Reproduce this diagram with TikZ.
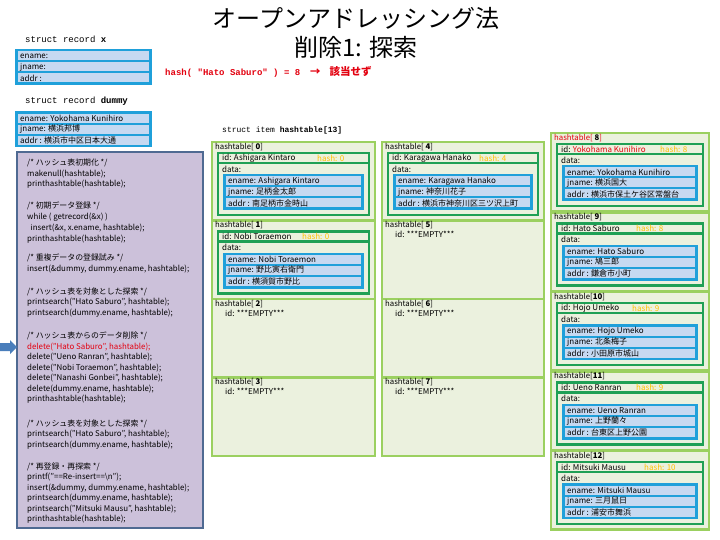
\documentclass[tikz,border=0pt]{standalone}
\usepackage{fontspec}
\setmainfont{Noto Sans CJK JP}
\newfontfamily\monof{Liberation Mono}
\definecolor{cyanB}{HTML}{1FA0DA}
\definecolor{rowB}{HTML}{C6D9F1}
\definecolor{lgreen}{HTML}{9BD060}
\definecolor{slotfill}{HTML}{EBF1DE}
\definecolor{dgreen}{HTML}{1FA055}
\definecolor{codefill}{HTML}{CCC1DA}
\definecolor{codeline}{HTML}{4F6A92}
\definecolor{hashc}{HTML}{FFC000}
\definecolor{redc}{HTML}{E3000F}
\definecolor{arrowc}{HTML}{4A7EBB}
\tikzset{
  txt/.style={inner sep=0pt, anchor=west, font=\fontsize{8}{9}\selectfont},
  lbl/.style={inner sep=0pt, anchor=west, font=\fontsize{7.8}{9}\selectfont},
  code/.style={inner sep=0pt, anchor=west, font=\fontsize{7.9}{9}\selectfont},
  slotouter/.style={draw=lgreen, line width=2.8pt, fill=slotfill},
  dgbox/.style={draw=dgreen, line width=2.5pt, fill=slotfill},
  structlbl/.style={inner sep=0pt, anchor=west, font=\monof\fontsize{9}{10}\selectfont}
}
\def\idcolor{black}
\def\labcolor{black}
% record block: name, "x,y", width, ename, jname, addr
\newcommand{\recblock}[6]{%
  \begin{scope}[shift={(#2)}]
    \pgfmathsetmacro\rw{#3}
    \fill[cyanB] (0,0) rectangle (\rw,36);
    \fill[rowB] (3,2.5) rectangle (\rw-3,11.5);
    \fill[rowB] (3,13.5) rectangle (\rw-3,22.5);
    \fill[rowB] (3,24.5) rectangle (\rw-3,33.5);
    \node[txt] (#1-en) at (5,7) {ename: #4};
    \node[txt] (#1-jn) at (5,18) {jname: #5};
    \node[txt] (#1-ad) at (5,29) {addr : #6};
  \end{scope}}
% filled slot: name, "X,Y", W, label, idname, hashx, hashval, jname, addr
\newcommand{\slotfull}[9]{%
  \begin{scope}[shift={(#2)}]
    \pgfmathsetmacro\sw{#3}
    \draw[slotouter] (0,0) rectangle (\sw,78.5);
    \node[lbl, text=\labcolor] (#1-lab) at (3,5) {#4};
    \draw[dgbox] (6,21) rectangle (\sw-6,73);
    \draw[dgbox] (6,11) rectangle (\sw-6,21);
    \node[txt] (#1-id) at (10,16) {id: \textcolor{\idcolor}{#5}};
    \node[txt, text=hashc] (#1-hash) at (#6,16) {hash: #7};
    \node[txt] (#1-data) at (10,27) {data:};
    \recblock{#1-rec}{11,32}{\sw-22}{#5}{#8}{#9}
  \end{scope}}
\newcommand{\slotempty}[4]{%
  \begin{scope}[shift={(#2)}]
    \draw[slotouter] (0,0) rectangle (#3,78.5);
    \node[lbl] (#1-lab) at (3,5) {#4};
    \node[txt] (#1-id) at (13,14) {id: ***EMPTY***};
  \end{scope}}
\begin{document}
\begin{tikzpicture}[x=1pt,y=-1pt]
\useasboundingbox (0,0) rectangle (720,540);
\fill[white] (0,0) rectangle (720,540);

% title
\node[inner sep=0pt, font=\fontsize{24}{26}\selectfont] (title1) at (356,18) {オープンアドレッシング法};
\node[inner sep=0pt, font=\fontsize{24}{26}\selectfont] (title2) at (356,47) {削除1: 探索};
\node[inner sep=0pt, anchor=west, text=redc, font=\bfseries\fontsize{10.5}{12}\selectfont] (hashres) at (165,72) {{\monof\fontsize{9}{10}\selectfont\bfseries hash( "Hato Saburo" ) = 8}\hspace{10pt}→\hspace{9pt}該当せず};

% struct record x
\node[structlbl] (sx) at (25,39) {struct record \textbf{x}};
\recblock{xrec}{15,49}{137}{}{}{}
% struct record dummy
\node[structlbl] (sd) at (25,101) {struct record \textbf{dummy}};
\recblock{drec}{15,111.5}{137}{Yokohama Kunihiro}{横浜邦博}{横浜市中区日本大通}

% code box
\draw[draw=codeline, line width=2pt, fill=codefill] (17,152) rectangle (203,528);
\node[code] (c01) at (27,163) {/* ハッシュ表初期化 */};
\node[code] (c02) at (27,174) {makenull(hashtable);};
\node[code] (c03) at (27,184) {printhashtable(hashtable);};
\node[code] (c04) at (27,206) {/* 初期データ登録 */};
\node[code] (c05) at (27,217) {while ( getrecord(\&x) )};
\node[code] (c06) at (27,228) {\ \ insert(\&x, x.ename, hashtable);};
\node[code] (c07) at (27,239) {printhashtable(hashtable);};
\node[code] (c08) at (27,258) {/* 重複データの登録試み */};
\node[code] (c09) at (27,269) {insert(\&dummy, dummy.ename, hashtable);};
\node[code] (c10) at (27,292) {/* ハッシュ表を対象とした探索 */};
\node[code] (c11) at (27,302) {printsearch("Hato Saburo", hashtable);};
\node[code] (c12) at (27,313) {printsearch(dummy.ename, hashtable);};
\node[code] (c13) at (27,336) {/* ハッシュ表からのデータ削除 */};
\node[code, text=redc] (c14) at (27,347) {delete("Hato Saburo", hashtable);};
\node[code] (c15) at (27,357) {delete("Ueno Ranran", hashtable);};
\node[code] (c16) at (27,368) {delete("Nobi Toraemon", hashtable);};
\node[code] (c17) at (27,378) {delete("Nanashi Gonbei", hashtable);};
\node[code] (c18) at (27,389) {delete(dummy.ename, hashtable);};
\node[code] (c19) at (27,399) {printhashtable(hashtable);};
\node[code] (c20) at (27,424) {/* ハッシュ表を対象とした探索 */};
\node[code] (c21) at (27,434) {printsearch("Hato Saburo", hashtable);};
\node[code] (c22) at (27,445) {printsearch(dummy.ename, hashtable);};
\node[code] (c23) at (27,467) {/* 再登録・再探索 */};
\node[code] (c24) at (27,477) {printf("==Re-insert==\textbackslash n");};
\node[code] (c25) at (27,488) {insert(\&dummy, dummy.ename, hashtable);};
\node[code] (c26) at (27,498) {printsearch(dummy.ename, hashtable);};
\node[code] (c27) at (27,509) {printsearch("Mitsuki Mausu", hashtable);};
\node[code] (c28) at (27,519) {printhashtable(hashtable);};

% arrow
\fill[arrowc] (0,343) -- (10,343) -- (10,340) -- (17,347) -- (10,354) -- (10,351) -- (0,351) -- cycle;

% hashtable
\node[structlbl, font=\monof\fontsize{8}{10}\selectfont] (sh) at (222,130) {struct item \textbf{hashtable[13]}};

\slotfull{s0}{212,142}{163}{hashtable[ \textbf{0}]}{Ashigara Kintaro}{105}{0}{足柄金太郎}{南足柄市金時山}
\slotfull{s1}{212,220.5}{163}{hashtable[ \textbf{1}]}{Nobi Toraemon}{90}{0}{野比寅右衛門}{横須賀市野比}
\slotempty{s2}{212,299}{163}{hashtable[ \textbf{2}]}
\slotempty{s3}{212,377.5}{163}{hashtable[ \textbf{3}]}

\slotfull{s4}{382,142}{162}{hashtable[ \textbf{4}]}{Karagawa Hanako}{97}{4}{神奈川花子}{横浜市神奈川区三ツ沢上町}
\slotempty{s5}{382,220.5}{162}{hashtable[ \textbf{5}]}
\slotempty{s6}{382,299}{162}{hashtable[ \textbf{6}]}
\slotempty{s7}{382,377.5}{162}{hashtable[ \textbf{7}]}

\begingroup
\def\idcolor{redc}\def\labcolor{redc}
\slotfull{s8}{551,133}{158}{hashtable[ \textbf{\textcolor{black}{8}}]}{Yokohama Kunihiro}{109}{8}{横浜国大}{横浜市保土ケ谷区常盤台}
\endgroup
\slotfull{s9}{551,212.5}{158}{hashtable[ \textbf{9}]}{Hato Saburo}{85}{8}{鳩三郎}{鎌倉市小町}
\slotfull{s10}{551,292}{158}{hashtable[\textbf{10}]}{Hojo Umeko}{81}{9}{北条梅子}{小田原市城山}
\slotfull{s11}{551,371.5}{158}{hashtable[\textbf{11}]}{Ueno Ranran}{85}{9}{上野蘭々}{台東区上野公園}
\slotfull{s12}{551,451}{158}{hashtable[\textbf{12}]}{Mitsuki Mausu}{93}{10}{三月鼠日}{浦安市舞浜}
\end{tikzpicture}
\end{document}
